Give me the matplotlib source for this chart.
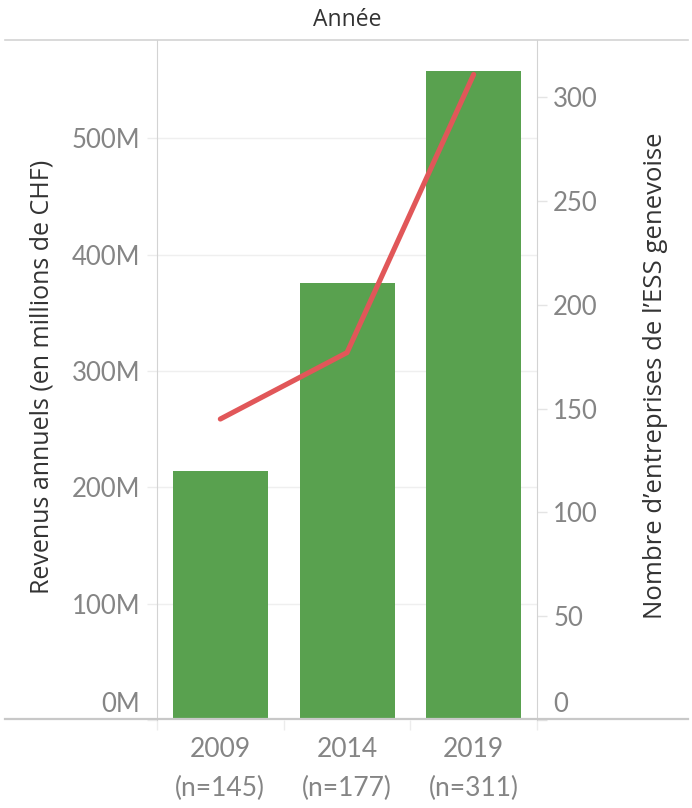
import numpy as np
import matplotlib
matplotlib.use('Agg')
import matplotlib.pyplot as plt
from matplotlib.lines import Line2D
from matplotlib.transforms import ScaledTranslation

# Data
years = ['2009', '2014', '2019']
n_firms = [145, 177, 311]
revenue = [214, 376, 558]   # millions de CHF
rev_ticks = [0, 100, 200, 300, 400, 500]
firm_ticks = [0, 50, 100, 150, 200, 250, 300]

green = '#59a14f'
red = '#e15759'
tick_col = '#858585'
title_col = '#333333'
rule_col = '#d3d3d3'

W, H = 692, 808
fig = plt.figure(figsize=(W / 100, H / 100), dpi=100)

def fx(px):
    return px / W

def fy(py):
    return 1 - py / H

ax = fig.add_axes([fx(157), fy(720), fx(537) - fx(157), fy(40) - fy(720)])
ax2 = ax.twinx()

x = np.arange(len(years))
ax.bar(x, revenue, width=0.75, color=green, zorder=2)
ax2.plot(x, n_firms, color=red, lw=3.7, solid_capstyle='round', zorder=3)

ax.set_xlim(-0.5, 2.5)
ax.set_ylim(0, 584.5)
ax2.set_ylim(0, 327.6)

# left axis
ax.set_yticks(rev_ticks)
ax.set_yticklabels([f'{v}M' for v in rev_ticks])
ax.tick_params(axis='y', length=7.2, width=1, color='#ececec', pad=5,
               labelsize=18.5, labelcolor=tick_col)
ax.grid(axis='y', color='#efefef', lw=1, zorder=0)
ax.set_axisbelow(True)

# right axis
ax2.set_yticks(firm_ticks)
ax2.tick_params(axis='y', length=7.2, width=1, color='#e4e4e4', pad=4.5,
                labelsize=18.5, labelcolor=tick_col)

# x axis
ax.set_xticks(x)
ax.set_xticklabels([f'{y}\n(n={n})' for y, n in zip(years, n_firms)],
                   linespacing=1.7)
ax.tick_params(axis='x', length=0, pad=12, labelsize=19, labelcolor=tick_col)
ax.set_xticks([-0.5, 0.5, 1.5, 2.5], minor=True)
ax.tick_params(axis='x', which='minor', length=7, width=1, color='#ececec')

for lab in ax.get_yticklabels() + ax2.get_yticklabels() + ax.get_xticklabels():
    lab.set_family('Lato')

# bottom labels nudged up like Tableau
for lab in (ax.get_yticklabels()[0], ax2.get_yticklabels()[0]):
    lab.set_transform(lab.get_transform() + ScaledTranslation(0, 0.185, fig.dpi_scale_trans))

for a in (ax, ax2):
    for s in a.spines.values():
        s.set_visible(False)
ax.spines['left'].set_visible(True)
ax.spines['left'].set_color(rule_col)
ax2.spines['right'].set_visible(True)
ax2.spines['right'].set_color(rule_col)

# header and rules
fig.add_artist(Line2D([fx(5), fx(688)], [fy(39.5), fy(39.5)], color=rule_col, lw=1.2))
fig.add_artist(Line2D([fx(5), fx(688)], [fy(718.5), fy(718.5)], color='#c8c8c8', lw=1.6))
fig.text(fx(347), fy(20), 'Année', ha='center', va='center', fontsize=16.5,
         color=title_col, family='Open Sans')

fig.text(fx(42), fy(377), 'Revenus annuels (en millions de CHF)', rotation=90,
         ha='center', va='center', fontsize=18, color=title_col, family='Open Sans')
fig.text(fx(656), fy(376), 'Nombre d\u2019entreprises de l\u2019ESS genevoise', rotation=90,
         ha='center', va='center', fontsize=18.5, color=title_col, family='Open Sans')

fig.savefig('out.png', dpi=100)
